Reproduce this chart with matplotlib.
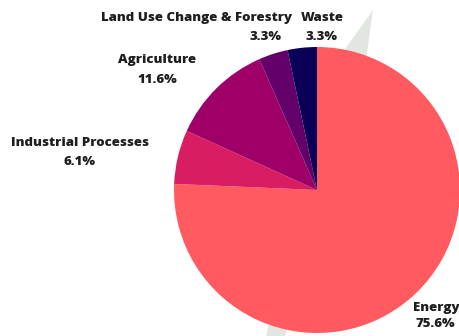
import matplotlib
matplotlib.use("Agg")
import matplotlib.pyplot as plt
from matplotlib.patches import Polygon

# Emission shares by sector (%)
sectors = ["Energy", "Industrial Processes", "Agriculture",
           "Land Use Change & Forestry", "Waste"]
shares = [75.6, 6.1, 11.6, 3.3, 3.3]
colors = ["#FF5A5F", "#D91D63", "#9E0068", "#640069", "#0A0057"]

W, H = 459, 336
fig = plt.figure(figsize=(W / 100, H / 100), dpi=100)
ax = fig.add_axes([0, 0, 1, 1])
ax.set_xlim(0, W)
ax.set_ylim(0, H)
ax.set_aspect("equal")
ax.axis("off")

def Y(y):
    return H - y

# light backdrop shape behind the pie
ax.add_patch(Polygon([(373, Y(10)), (330, Y(70)), (266, Y(336)),
                      (285, Y(336)), (366, Y(60))],
                     closed=True, facecolor="#E1E6E1", edgecolor="none", zorder=0))

cx, cy, r = 317, Y(190), 143
ax.pie(shares, colors=colors, startangle=90, counterclock=False,
       center=(cx, cy), radius=r, frame=True,
       wedgeprops=dict(linewidth=0, antialiased=True))
ax.set_xlim(0, W)
ax.set_ylim(0, H)
ax.axis("off")

font = dict(family=["Open Sans", "DejaVu Sans"], fontweight=800,
            fontsize=9.55, color="#1E1E1E")

def label(text, x, y, ha="center"):
    ax.text(x, Y(y), text, ha=ha, va="center", **font)

pct = [f"{v:.1f}%" for v in shares]

label(sectors[0], 436, 308)
label(pct[0], 435, 324)
label(sectors[1], 80, 143)
label(pct[1], 80, 162)
label(sectors[2], 157, 60)
label(pct[2], 157, 80)
label(sectors[3], 292, 18, ha="right")
label(pct[3], 265, 37)
label(sectors[4], 322, 18)
label(pct[4], 322, 37)

fig.savefig("out.png", dpi=100)
